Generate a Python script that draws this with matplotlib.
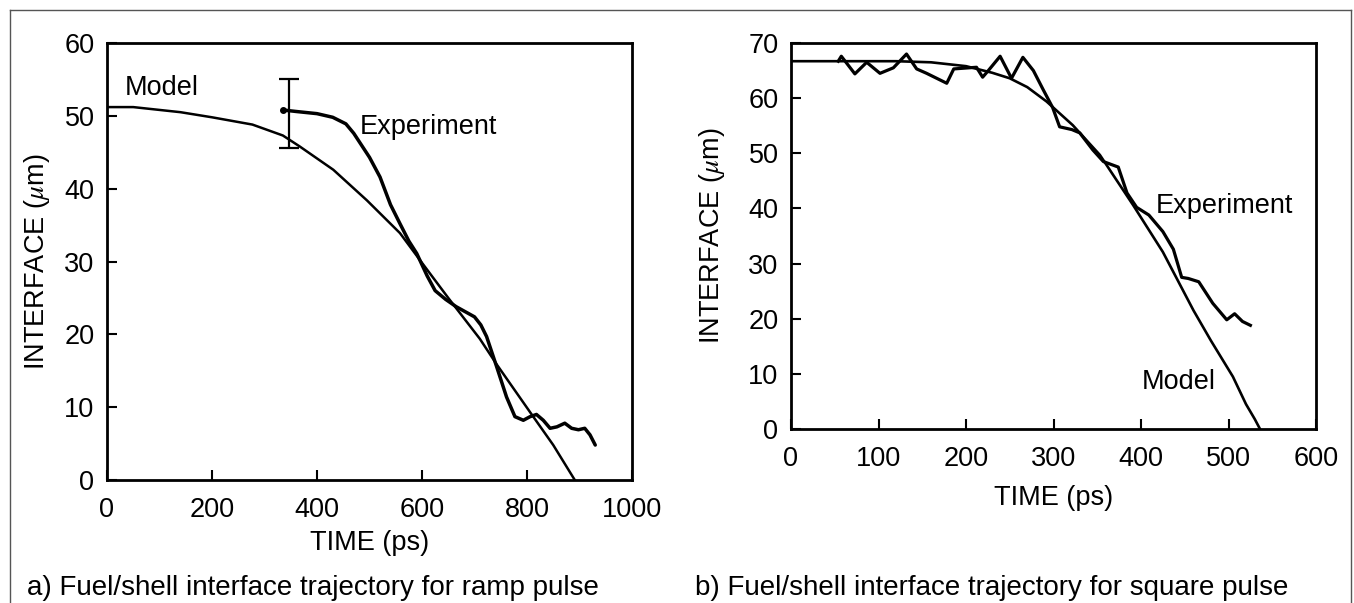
import numpy as np
import matplotlib
matplotlib.use("Agg")
from matplotlib import pyplot as plt
from matplotlib.lines import Line2D

plt.rcParams['font.family'] = ['Liberation Sans', 'DejaVu Sans']
plt.rcParams['mathtext.fontset'] = 'stix'

# a) ramp pulse
model_a_t = [0, 50, 140, 200, 277, 335, 367, 431, 495, 558, 596, 650, 710, 742, 806, 850, 891]
model_a_y = [51.2, 51.2, 50.5, 49.8, 48.8, 47.3, 45.8, 42.6, 38.4, 33.9, 30.2, 25.0, 19.4, 15.9, 9.3, 4.8, 0.0]
exp_a_t = [335, 360, 400, 430, 455, 470, 480, 500, 520, 540, 558, 575, 590, 610, 625, 645, 665,
           685, 700, 712, 723, 742, 761, 777, 793, 806, 818, 831, 844, 857, 872, 885, 898, 910, 920, 930]
exp_a_y = [50.8, 50.6, 50.3, 49.8, 48.9, 47.6, 46.5, 44.3, 41.6, 37.8, 35.2, 32.8, 31.1, 28.0, 26.0, 24.8, 23.8,
           23.0, 22.4, 21.3, 19.7, 15.6, 11.4, 8.7, 8.2, 8.7, 9.0, 8.2, 7.1, 7.3, 7.8, 7.1, 6.9, 7.1, 6.2, 4.8]
errbar_t = 347
errbar_y = 50.35
errbar_h = 4.75

# b) square pulse
model_b_t = [0, 60, 120, 160, 200, 230, 250, 270, 292, 322, 353, 391, 425, 460, 480, 505, 520, 530, 536]
model_b_y = [66.7, 66.7, 66.7, 66.5, 65.8, 64.6, 63.6, 62.0, 59.4, 55.1, 49.7, 40.6, 32.1, 21.5, 16.0, 9.5, 4.5, 1.8, 0.0]
exp_b_t = [54, 57.5, 73, 86.5, 101.7, 117, 132, 143.6, 155, 178, 186, 212, 219, 225, 239, 252, 265, 277, 288,
           299, 307, 321, 330, 345, 357, 374, 384, 395, 409, 425, 437, 446.5, 454, 466, 482, 498, 507, 516, 525]
exp_b_y = [66.7, 67.6, 64.4, 66.5, 64.5, 65.5, 68.0, 65.3, 64.5, 62.7, 65.3, 65.6, 63.8, 64.9, 67.6, 63.6, 67.4, 65.0, 61.6,
           58.3, 54.8, 54.3, 53.7, 50.6, 48.5, 47.5, 42.8, 40.2, 38.8, 35.8, 32.6, 27.5, 27.3, 26.7, 22.8, 19.8, 20.9, 19.5, 18.8]

fs = 19.5
cap_fs = 20
W, H = 1354, 603
fig = plt.figure(figsize=(W / 100, H / 100), dpi=100)


def px_axes(x0, x1, ytop, ybot):
    return fig.add_axes([x0 / W, (H - ybot) / H, (x1 - x0) / W, (ybot - ytop) / H])


def style(ax):
    for s in ax.spines.values():
        s.set_linewidth(2.0)
    ax.tick_params(direction='in', length=7, width=1.5, labelsize=fs, top=False, right=False)
    ax.tick_params(axis='x', pad=12)
    ax.tick_params(axis='y', pad=9)


ax1 = px_axes(107, 632, 43, 480)
ax1.plot(model_a_t, model_a_y, color='black', lw=1.8)
ax1.plot(exp_a_t, exp_a_y, color='black', lw=2.5, solid_capstyle='round')
ax1.plot(exp_a_t[:1], exp_a_y[:1], 'o', color='black', ms=4)
ax1.errorbar([errbar_t], [errbar_y], yerr=[[errbar_h], [errbar_h]], fmt='none', ecolor='black',
             elinewidth=1.6, capsize=7.5, capthick=1.6)
ax1.text(33, 53.8, 'Model', fontsize=fs, va='center', ha='left')
ax1.text(481, 48.5, 'Experiment', fontsize=fs, va='center', ha='left')
ax1.set_xlim(0, 1000)
ax1.set_ylim(0, 60)
ax1.set_xticks([0, 200, 400, 600, 800, 1000])
ax1.set_yticks([0, 10, 20, 30, 40, 50, 60])
style(ax1)
ax1.set_xlabel('TIME (ps)', fontsize=fs, va='center')
ax1.set_ylabel(r'INTERFACE ($\mu$m)', fontsize=fs, va='center')
ax1.xaxis.set_label_coords(0.5, -0.144)
ax1.yaxis.set_label_coords(-0.133, 0.5)

ax2 = px_axes(791, 1316, 43, 429)
ax2.plot(model_b_t, model_b_y, color='black', lw=1.9)
ax2.plot(exp_b_t, exp_b_y, color='black', lw=2.3)
ax2.text(443, 8.5, 'Model', fontsize=fs, va='center', ha='center')
ax2.text(417, 40.4, 'Experiment', fontsize=fs, va='center', ha='left')
ax2.set_xlim(0, 600)
ax2.set_ylim(0, 70)
ax2.set_xticks([0, 100, 200, 300, 400, 500, 600])
ax2.set_yticks([0, 10, 20, 30, 40, 50, 60, 70])
style(ax2)
ax2.set_xlabel('TIME (ps)', fontsize=fs, va='center')
ax2.set_ylabel(r'INTERFACE ($\mu$m)', fontsize=fs, va='center')
ax2.xaxis.set_label_coords(0.5, -0.179)
ax2.yaxis.set_label_coords(-0.150, 0.5)

fig.text(27 / W, 1 - 588 / H, 'a) Fuel/shell interface trajectory for ramp pulse', fontsize=cap_fs, va='center', ha='left')
fig.text(695 / W, 1 - 588 / H, 'b) Fuel/shell interface trajectory for square pulse', fontsize=cap_fs, va='center', ha='left')

# outer frame (left, top, right)
for xs, ys in [([10, 10], [10, 603]), ([10, 1351], [10, 10]), ([1351, 1351], [10, 603])]:
    fig.add_artist(Line2D([x / W for x in xs], [1 - y / H for y in ys], color='#555555', lw=1.0))

fig.savefig('out.png', dpi=100)
